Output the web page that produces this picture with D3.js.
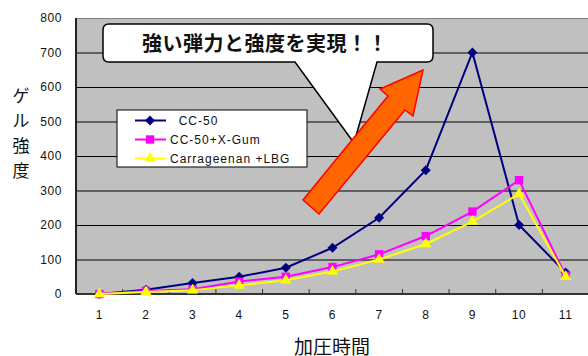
<!DOCTYPE html>
<html>
<head>
<meta charset="utf-8">
<script src="https://cdn.jsdelivr.net/npm/d3@7"></script>
<style>
  body { margin: 0; background: #fff; }
  svg { display: block; }
  text { font-family: "Liberation Sans", Arial, sans-serif; fill: #111; }
  .jp { font-family: "Noto Sans CJK JP", sans-serif; }
</style>
</head>
<body>
<div id="chart"></div>
<script>
const categories = ["1", "2", "3", "4", "5", "6", "7", "8", "9", "10", "11"];
const cc50 = [0, 12, 32, 50, 76, 134, 221, 359, 700, 200, 62];
const cc50XGum = [0, 9, 14, 36, 50, 78, 115, 168, 239, 330, 53];
const carrLbg = [0, 6, 11, 25, 40, 65, 100, 145, 210, 290, 50];
const yTicks = [0, 100, 200, 300, 400, 500, 600, 700, 800];
const seriesNames = ["  CC-50", "CC-50+X-Gum", "Carrageenan +LBG"];

const W = 588, H = 356;
const margin = { top: 18, right: -1, bottom: 62, left: 76 };
const width = W - margin.left - margin.right;
const height = H - margin.top - margin.bottom;

const svg = d3.select("#chart").append("svg")
  .attr("width", W)
  .attr("height", H);

const g = svg.append("g")
  .attr("transform", `translate(${margin.left},${margin.top})`);

const x = d3.scaleBand().domain(categories).range([0, width]);
const y = d3.scaleLinear().domain([0, 800]).range([height, 0]);

// plot background
g.append("rect")
  .attr("width", width)
  .attr("height", height)
  .attr("fill", "#c0c0c0");

// gridlines
g.selectAll(".grid")
  .data(yTicks.filter(d => d > 0 && d < 800))
  .enter().append("line")
  .attr("x1", 0).attr("x2", width)
  .attr("y1", d => y(d) + 0.5).attr("y2", d => y(d) + 0.5)
  .attr("stroke", "#000")
  .attr("stroke-width", 1);

g.append("line")
  .attr("x1", 0).attr("x2", width)
  .attr("y1", 0.5).attr("y2", 0.5)
  .attr("stroke", "#808080");

// y axis
const yAxis = d3.axisLeft(y).tickValues(yTicks).tickSize(0).tickPadding(14);
g.append("g").call(yAxis)
  .call(a => a.select(".domain").remove())
  .selectAll("text")
  .style("font-size", "12px")
  .style("letter-spacing", "0.6px")
  .attr("fill", "#111");

g.append("line")
  .attr("x1", 0).attr("x2", 0)
  .attr("y1", 0).attr("y2", height)
  .attr("stroke", "#222")
  .attr("stroke-width", 2);

// x axis
g.append("line")
  .attr("x1", 0).attr("x2", width)
  .attr("y1", height).attr("y2", height)
  .attr("stroke", "#333")
  .attr("stroke-width", 2);

g.selectAll(".xtick")
  .data(categories.slice(1))
  .enter().append("line")
  .attr("x1", d => x(d)).attr("x2", d => x(d))
  .attr("y1", height - 5).attr("y2", height)
  .attr("stroke", "#333");

g.selectAll(".xlab")
  .data(categories)
  .enter().append("text")
  .attr("x", d => x(d) + x.bandwidth() / 2)
  .attr("y", height + 25)
  .attr("text-anchor", "middle")
  .style("font-size", "12px")
  .style("letter-spacing", "0.6px")
  .text(d => d);

// series
const line = d3.line()
  .x((d, i) => x(categories[i]) + x.bandwidth() / 2)
  .y(d => y(d));

const series = [
  { name: seriesNames[0], values: cc50, color: "#000080", symbol: d3.symbolSquare, size: 50, rot: 45 },
  { name: seriesNames[1], values: cc50XGum, color: "#ff00ff", symbol: d3.symbolSquare, size: 70, rot: 0 },
  { name: seriesNames[2], values: carrLbg, color: "#ffff00", symbol: d3.symbolTriangle, size: 55, rot: 0 }
];

series.forEach(s => {
  g.append("path")
    .datum(s.values)
    .attr("fill", "none")
    .attr("stroke", s.color)
    .attr("stroke-width", 2)
    .attr("d", line);
  g.selectAll(null)
    .data(s.values)
    .enter().append("path")
    .attr("transform", (d, i) => `translate(${x(categories[i]) + x.bandwidth() / 2},${y(d)}) rotate(${s.rot})`)
    .attr("d", d3.symbol().type(s.symbol).size(s.size))
    .attr("fill", s.color);
});

// legend
const legend = svg.append("g").attr("transform", "translate(117,110)");
legend.append("rect")
  .attr("width", 190).attr("height", 57)
  .attr("fill", "#fff")
  .attr("stroke", "#000");
series.forEach((s, i) => {
  const ly = 10.5 + i * 19;
  legend.append("line")
    .attr("x1", 18).attr("x2", 49)
    .attr("y1", ly).attr("y2", ly)
    .attr("stroke", s.color).attr("stroke-width", 2);
  legend.append("path")
    .attr("transform", `translate(33,${ly}) rotate(${s.rot})`)
    .attr("d", d3.symbol().type(s.symbol).size(s.size))
    .attr("fill", s.color);
  legend.append("text")
    .attr("x", 53).attr("y", ly + 4.5)
    .attr("xml:space", "preserve")
    .style("white-space", "pre")
    .style("font-size", "12px")
    .style("letter-spacing", "1px")
    .text(s.name);
});

// callout
svg.append("path")
  .attr("d", "M109 24 H427 Q433 24 433 30 V56 Q433 62 427 62 H377 L354 143 L295 62 H109 Q103 62 103 56 V30 Q103 24 109 24 Z")
  .attr("fill", "#fff")
  .attr("stroke", "#000")
  .attr("stroke-width", 1.5);
svg.append("text")
  .attr("class", "jp")
  .attr("x", 142).attr("y", 51)
  .style("font-size", "20px")
  .style("font-weight", "bold")
  .style("letter-spacing", "0.5px")
  .text("強い弾力と強度を実現！！");

// arrow
svg.append("polygon")
  .attr("points", "303,200 388,96 380,89 423,70 413,116 405,110 319,214")
  .attr("fill", "#ff6600")
  .attr("stroke", "#ff0000")
  .attr("stroke-width", 1.5)
  .attr("stroke-linejoin", "miter");

// axis titles
svg.append("text")
  .attr("class", "jp")
  .attr("x", 332).attr("y", 354)
  .attr("text-anchor", "middle")
  .style("font-size", "19px")
  .text("加圧時間");

["ゲ", "ル", "強", "度"].forEach((c, i) => {
  svg.append("text")
    .attr("class", "jp")
    .attr("x", 21)
    .attr("y", 102 + i * 25)
    .attr("text-anchor", "middle")
    .style("font-size", "17px")
    .text(c);
});
</script>
</body>
</html>
